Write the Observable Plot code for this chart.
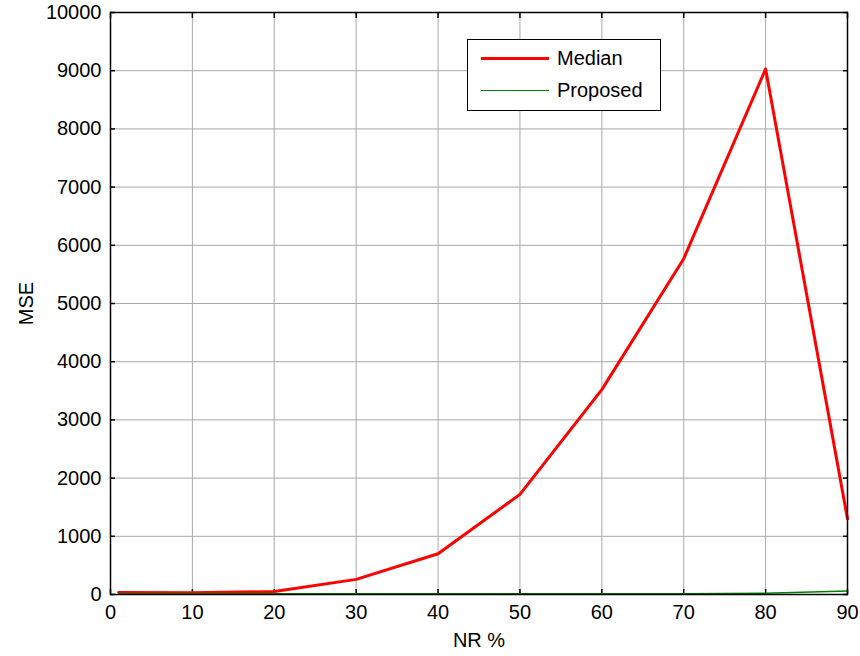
<!DOCTYPE html>
<html><head><meta charset="utf-8">
<script src="https://cdn.jsdelivr.net/npm/d3@7"></script>
<script src="https://cdn.jsdelivr.net/npm/@observablehq/plot@0.6"></script>
<style>
body{margin:0;background:#fff;font-family:"Liberation Sans",Arial,sans-serif;}
#wrap{position:relative;width:860px;height:656px;}
#legend{position:absolute;left:467px;top:39px;width:192px;height:70px;border:1px solid #000;background:#fff;font-size:20px;}
.row{position:absolute;left:13px;display:flex;align-items:center;}
.sw{width:68px;margin-right:8px;}
</style></head><body>
<div id="wrap"><div id="chart"></div>
<div id="legend">
<div class="row" style="top:7px"><div class="sw" style="border-top:3px solid #ff0000"></div><span>Median</span></div>
<div class="row" style="top:39px"><div class="sw" style="border-top:1.5px solid #008000"></div><span>Proposed</span></div>
</div></div>
<script>
const nr = [1, 10, 20, 30, 40, 50, 60, 70, 80, 90];
const median = [35, 30, 50, 260, 700, 1720, 3520, 5770, 9030, 1300];
const proposed = [15, 15, 15, 15, 15, 15, 15, 15, 20, 60];
const xTicks = [0, 10, 20, 30, 40, 50, 60, 70, 80, 90];
const yTicks = [0, 1000, 2000, 3000, 4000, 5000, 6000, 7000, 8000, 9000, 10000];

const medData = nr.map((x, i) => ({x, y: median[i]}));
const propData = nr.map((x, i) => ({x, y: proposed[i]}));
const blank = () => "";

const chart = Plot.plot({
  width: 860, height: 656,
  marginLeft: 110, marginRight: 13, marginTop: 12, marginBottom: 62,
  style: {fontFamily: "Liberation Sans, Arial, sans-serif", fontSize: "18px", background: "#fff"},
  x: {domain: [0, 90]},
  y: {domain: [0, 10000]},
  marks: [
    Plot.gridX(xTicks, {stroke: "#a8a8a8", strokeOpacity: 1}),
    Plot.gridY(yTicks, {stroke: "#a8a8a8", strokeOpacity: 1}),
    Plot.axisX(xTicks, {anchor: "bottom", tickSize: -5, tickFormat: blank, label: null, stroke: "#000", strokeWidth: 1.5}),
    Plot.axisX(xTicks, {anchor: "top", tickSize: -5, tickFormat: blank, label: null, stroke: "#000", strokeWidth: 1.5}),
    Plot.axisY(yTicks, {anchor: "left", tickSize: -5, tickFormat: blank, label: null, stroke: "#000", strokeWidth: 1.5}),
    Plot.axisY(yTicks, {anchor: "right", tickSize: -5, tickFormat: blank, label: null, stroke: "#000", strokeWidth: 1.5}),
    Plot.axisX(xTicks, {anchor: "bottom", tickSize: 0, tickPadding: 10, fill: "#000", fontSize: 20, label: "NR %", labelAnchor: "center", labelOffset: 52, labelArrow: "none"}),
    Plot.axisY(yTicks, {anchor: "left", tickSize: 0, tickPadding: 9, fill: "#000", fontSize: 20, tickFormat: d => String(d), label: "MSE", labelAnchor: "center", labelOffset: 92, labelArrow: "none"}),
    Plot.line(medData, {x: "x", y: "y", stroke: "#ff0000", strokeWidth: 3}),
    Plot.line(propData, {x: "x", y: "y", stroke: "#008000", strokeWidth: 1.5}),
    Plot.frame({stroke: "#000", strokeWidth: 1.5})
  ]
});
document.getElementById("chart").appendChild(chart);
</script></body></html>
